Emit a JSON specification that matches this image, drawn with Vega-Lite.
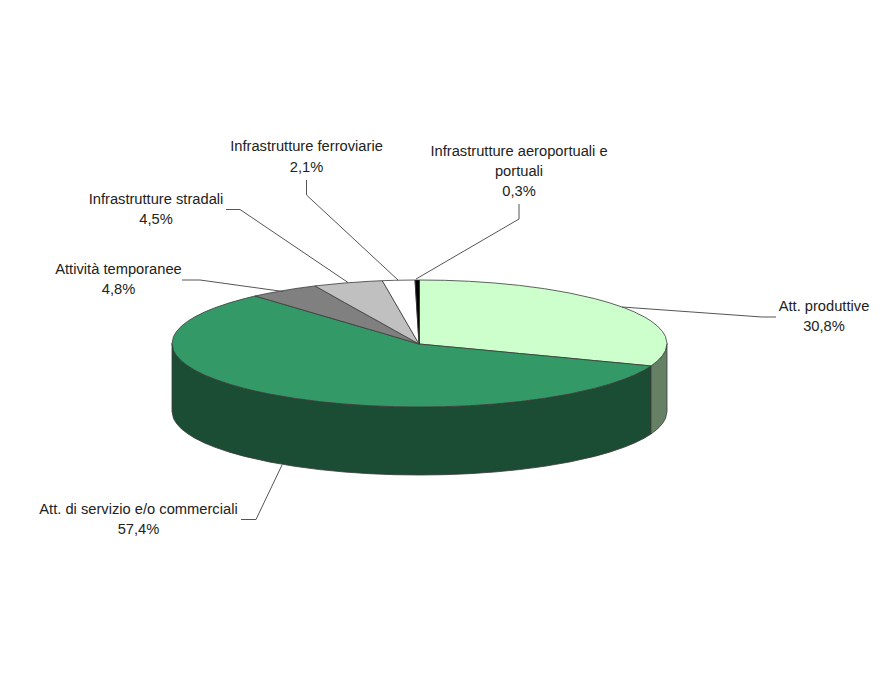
{"$schema":"https://vega.github.io/schema/vega-lite/v6.json","width":882,"height":682,"padding":0,"autosize":{"type":"fit","contains":"padding"},"background":"white","view":{"stroke":null},
"datasets":{
"slices":[
{"slice":"Att. di servizio e/o commerciali (lato)","x":172,"y":343.5,"y2":411.5},{"slice":"Att. di servizio e/o commerciali (lato)","x":173.5,"y":350.5,"y2":418.5},{"slice":"Att. di servizio e/o commerciali (lato)","x":176.5,"y":355.5,"y2":423.5},{"slice":"Att. di servizio e/o commerciali (lato)","x":181.5,"y":360.9,"y2":428.9},{"slice":"Att. di servizio e/o commerciali (lato)","x":187.5,"y":365.6,"y2":433.6},{"slice":"Att. di servizio e/o commerciali (lato)","x":194.5,"y":370,"y2":438},{"slice":"Att. di servizio e/o commerciali (lato)","x":204.5,"y":375,"y2":443},{"slice":"Att. di servizio e/o commerciali (lato)","x":214.5,"y":379.1,"y2":447.1},{"slice":"Att. di servizio e/o commerciali (lato)","x":229.5,"y":384.2,"y2":452.2},{"slice":"Att. di servizio e/o commerciali (lato)","x":244.5,"y":388.4,"y2":456.4},{"slice":"Att. di servizio e/o commerciali (lato)","x":269.5,"y":394,"y2":462},{"slice":"Att. di servizio e/o commerciali (lato)","x":294.5,"y":398.3,"y2":466.3},{"slice":"Att. di servizio e/o commerciali (lato)","x":319.5,"y":401.6,"y2":469.6},{"slice":"Att. di servizio e/o commerciali (lato)","x":344.5,"y":404,"y2":472},{"slice":"Att. di servizio e/o commerciali (lato)","x":369.5,"y":405.7,"y2":473.7},{"slice":"Att. di servizio e/o commerciali (lato)","x":394.5,"y":406.7,"y2":474.7},{"slice":"Att. di servizio e/o commerciali (lato)","x":419.5,"y":407,"y2":475},{"slice":"Att. di servizio e/o commerciali (lato)","x":444.5,"y":406.7,"y2":474.7},{"slice":"Att. di servizio e/o commerciali (lato)","x":469.5,"y":405.7,"y2":473.7},{"slice":"Att. di servizio e/o commerciali (lato)","x":494.5,"y":404,"y2":472},{"slice":"Att. di servizio e/o commerciali (lato)","x":519.5,"y":401.6,"y2":469.6},{"slice":"Att. di servizio e/o commerciali (lato)","x":544.5,"y":398.3,"y2":466.3},{"slice":"Att. di servizio e/o commerciali (lato)","x":569.5,"y":394,"y2":462},{"slice":"Att. di servizio e/o commerciali (lato)","x":594.5,"y":388.4,"y2":456.4},{"slice":"Att. di servizio e/o commerciali (lato)","x":609.5,"y":384.2,"y2":452.2},{"slice":"Att. di servizio e/o commerciali (lato)","x":624.5,"y":379.1,"y2":447.1},{"slice":"Att. di servizio e/o commerciali (lato)","x":634.5,"y":375,"y2":443},{"slice":"Att. di servizio e/o commerciali (lato)","x":644.5,"y":370,"y2":438},{"slice":"Att. di servizio e/o commerciali (lato)","x":651,"y":366,"y2":434},
{"slice":"Att. produttive (lato)","x":651,"y":366,"y2":434},{"slice":"Att. produttive (lato)","x":657.5,"y":360.9,"y2":428.9},{"slice":"Att. produttive (lato)","x":662.5,"y":355.5,"y2":423.5},{"slice":"Att. produttive (lato)","x":665.5,"y":350.5,"y2":418.5},{"slice":"Att. produttive (lato)","x":667,"y":343.5,"y2":411.5},
{"slice":"Att. produttive","x":419.5,"y":280,"y2":344},{"slice":"Att. produttive","x":444.5,"y":280.3,"y2":346.4},{"slice":"Att. produttive","x":469.5,"y":281.3,"y2":348.7},{"slice":"Att. produttive","x":494.5,"y":283,"y2":351.1},{"slice":"Att. produttive","x":519.5,"y":285.4,"y2":353.5},{"slice":"Att. produttive","x":544.5,"y":288.7,"y2":355.8},{"slice":"Att. produttive","x":569.5,"y":293,"y2":358.2},{"slice":"Att. produttive","x":594.5,"y":298.6,"y2":360.6},{"slice":"Att. produttive","x":609.5,"y":302.8,"y2":362},{"slice":"Att. produttive","x":624.5,"y":307.9,"y2":363.4},{"slice":"Att. produttive","x":634.5,"y":312,"y2":364.4},{"slice":"Att. produttive","x":644.5,"y":317,"y2":365.3},{"slice":"Att. produttive","x":651,"y":321,"y2":366},{"slice":"Att. produttive","x":657.5,"y":326.1,"y2":360.9},{"slice":"Att. produttive","x":662.5,"y":331.5,"y2":355.5},{"slice":"Att. produttive","x":665.5,"y":336.5,"y2":350.5},{"slice":"Att. produttive","x":667,"y":343.5,"y2":343.5},
{"slice":"Att. di servizio e/o commerciali","x":172,"y":343.5,"y2":343.5},{"slice":"Att. di servizio e/o commerciali","x":173.5,"y":336.5,"y2":350.5},{"slice":"Att. di servizio e/o commerciali","x":176.5,"y":331.5,"y2":355.5},{"slice":"Att. di servizio e/o commerciali","x":181.5,"y":326.1,"y2":360.9},{"slice":"Att. di servizio e/o commerciali","x":187.5,"y":321.4,"y2":365.6},{"slice":"Att. di servizio e/o commerciali","x":194.5,"y":317,"y2":370},{"slice":"Att. di servizio e/o commerciali","x":204.5,"y":312,"y2":375},{"slice":"Att. di servizio e/o commerciali","x":214.5,"y":307.9,"y2":379.1},{"slice":"Att. di servizio e/o commerciali","x":229.5,"y":302.8,"y2":384.2},{"slice":"Att. di servizio e/o commerciali","x":244.5,"y":298.6,"y2":388.4},{"slice":"Att. di servizio e/o commerciali","x":255,"y":296,"y2":391},{"slice":"Att. di servizio e/o commerciali","x":269.5,"y":300.2,"y2":394},{"slice":"Att. di servizio e/o commerciali","x":294.5,"y":307.5,"y2":398.3},{"slice":"Att. di servizio e/o commerciali","x":319.5,"y":314.8,"y2":401.6},{"slice":"Att. di servizio e/o commerciali","x":344.5,"y":322.1,"y2":404},{"slice":"Att. di servizio e/o commerciali","x":369.5,"y":329.4,"y2":405.7},{"slice":"Att. di servizio e/o commerciali","x":394.5,"y":336.7,"y2":406.7},{"slice":"Att. di servizio e/o commerciali","x":419,"y":344,"y2":407},{"slice":"Att. di servizio e/o commerciali","x":444.5,"y":346.4,"y2":406.7},{"slice":"Att. di servizio e/o commerciali","x":469.5,"y":348.7,"y2":405.7},{"slice":"Att. di servizio e/o commerciali","x":494.5,"y":351.1,"y2":404},{"slice":"Att. di servizio e/o commerciali","x":519.5,"y":353.5,"y2":401.6},{"slice":"Att. di servizio e/o commerciali","x":544.5,"y":355.8,"y2":398.3},{"slice":"Att. di servizio e/o commerciali","x":569.5,"y":358.2,"y2":394},{"slice":"Att. di servizio e/o commerciali","x":594.5,"y":360.6,"y2":388.4},{"slice":"Att. di servizio e/o commerciali","x":609.5,"y":362,"y2":384.2},{"slice":"Att. di servizio e/o commerciali","x":624.5,"y":363.4,"y2":379.1},{"slice":"Att. di servizio e/o commerciali","x":634.5,"y":364.4,"y2":375},{"slice":"Att. di servizio e/o commerciali","x":644.5,"y":365.3,"y2":370},{"slice":"Att. di servizio e/o commerciali","x":651,"y":366,"y2":366},
{"slice":"Attività temporanee","x":255,"y":296,"y2":296},{"slice":"Attività temporanee","x":269.5,"y":293,"y2":300.2},{"slice":"Attività temporanee","x":294.5,"y":288.7,"y2":307.5},{"slice":"Attività temporanee","x":315,"y":285.9,"y2":313.5},{"slice":"Attività temporanee","x":344.5,"y":302.5,"y2":322.1},{"slice":"Attività temporanee","x":369.5,"y":316.4,"y2":329.4},{"slice":"Attività temporanee","x":394.5,"y":330.4,"y2":336.7},{"slice":"Attività temporanee","x":419,"y":344,"y2":344},
{"slice":"Infrastrutture stradali","x":315,"y":285.9,"y2":285.9},{"slice":"Infrastrutture stradali","x":344.5,"y":283,"y2":302.5},{"slice":"Infrastrutture stradali","x":369.5,"y":281.3,"y2":316.4},{"slice":"Infrastrutture stradali","x":382.3,"y":280.7,"y2":323.5},{"slice":"Infrastrutture stradali","x":394.5,"y":301.7,"y2":330.4},{"slice":"Infrastrutture stradali","x":419,"y":344,"y2":344},
{"slice":"Infrastrutture ferroviarie","x":382.3,"y":280.7,"y2":280.7},{"slice":"Infrastrutture ferroviarie","x":394.5,"y":280.3,"y2":301.7},{"slice":"Infrastrutture ferroviarie","x":415,"y":280,"y2":337.1},{"slice":"Infrastrutture ferroviarie","x":419,"y":344,"y2":344},
{"slice":"Infrastrutture aeroportuali e portuali","x":415,"y":280,"y2":280},{"slice":"Infrastrutture aeroportuali e portuali","x":419,"y":280,"y2":344},{"slice":"Infrastrutture aeroportuali e portuali","x":419.5,"y":280,"y2":344}
],
"leaders":[
{"name":"Att. produttive","step":1,"x":622,"y":307},{"name":"Att. produttive","step":2,"x":762,"y":317},{"name":"Att. produttive","step":3,"x":776,"y":317},
{"name":"Att. di servizio","step":1,"x":282,"y":465},{"name":"Att. di servizio","step":2,"x":256,"y":519.5},{"name":"Att. di servizio","step":3,"x":241,"y":519.5},
{"name":"Attività temporanee","step":1,"x":182,"y":280},{"name":"Attività temporanee","step":2,"x":200,"y":280},{"name":"Attività temporanee","step":3,"x":283,"y":291.5},
{"name":"Infrastrutture stradali","step":1,"x":226,"y":209.5},{"name":"Infrastrutture stradali","step":2,"x":240,"y":209.5},{"name":"Infrastrutture stradali","step":3,"x":348,"y":282.5},
{"name":"Infrastrutture ferroviarie","step":1,"x":306.5,"y":180},{"name":"Infrastrutture ferroviarie","step":2,"x":306.5,"y":195},{"name":"Infrastrutture ferroviarie","step":3,"x":398,"y":280},
{"name":"Infrastrutture aeroportuali","step":1,"x":519,"y":204},{"name":"Infrastrutture aeroportuali","step":2,"x":519,"y":219},{"name":"Infrastrutture aeroportuali","step":3,"x":416,"y":279}
],
"labels":[
{"text":"Infrastrutture ferroviarie","x":306.5,"y":146.5},{"text":"2,1%","x":306.5,"y":167.5},
{"text":"Infrastrutture aeroportuali e","x":519,"y":151.5},{"text":"portuali","x":519,"y":171.5},{"text":"0,3%","x":519,"y":191.5},
{"text":"Infrastrutture stradali","x":156,"y":199.5},{"text":"4,5%","x":156,"y":219.5},
{"text":"Attività temporanee","x":118.5,"y":269.5},{"text":"4,8%","x":118.5,"y":289.5},
{"text":"Att. produttive","x":824,"y":306.5},{"text":"30,8%","x":824,"y":326.5},
{"text":"Att. di servizio e/o commerciali","x":138.5,"y":509.5},{"text":"57,4%","x":138.5,"y":529.5}
]},
"layer":[
{"data":{"name":"slices"},"mark":{"type":"area","stroke":"#3a3a3a","strokeWidth":0.8,"opacity":1},
"encoding":{"x":{"field":"x","type":"quantitative","scale":{"domain":[0,882],"nice":false,"zero":false},"axis":null},
"y":{"field":"y","type":"quantitative","stack":null,"scale":{"domain":[682,0],"nice":false,"zero":false},"axis":null},
"y2":{"field":"y2"},
"color":{"field":"slice","type":"nominal","legend":null,"scale":{"domain":["Att. di servizio e/o commerciali (lato)","Att. produttive (lato)","Att. produttive","Att. di servizio e/o commerciali","Attività temporanee","Infrastrutture stradali","Infrastrutture ferroviarie","Infrastrutture aeroportuali e portuali"],"range":["#1a4d33","#668066","#ccffcc","#339966","#808080","#c0c0c0","#ffffff","#000000"]}}}},
{"data":{"name":"leaders"},"mark":{"type":"line","color":"#555555","strokeWidth":1},
"encoding":{"x":{"field":"x","type":"quantitative"},"y":{"field":"y","type":"quantitative"},"detail":{"field":"name"},"order":{"field":"step","type":"quantitative"}}},
{"data":{"name":"labels"},"mark":{"type":"text","font":"Liberation Sans","fontSize":14.7,"color":"#222222","align":"center","baseline":"middle"},
"encoding":{"x":{"field":"x","type":"quantitative"},"y":{"field":"y","type":"quantitative"},"text":{"field":"text"}}}
]}
